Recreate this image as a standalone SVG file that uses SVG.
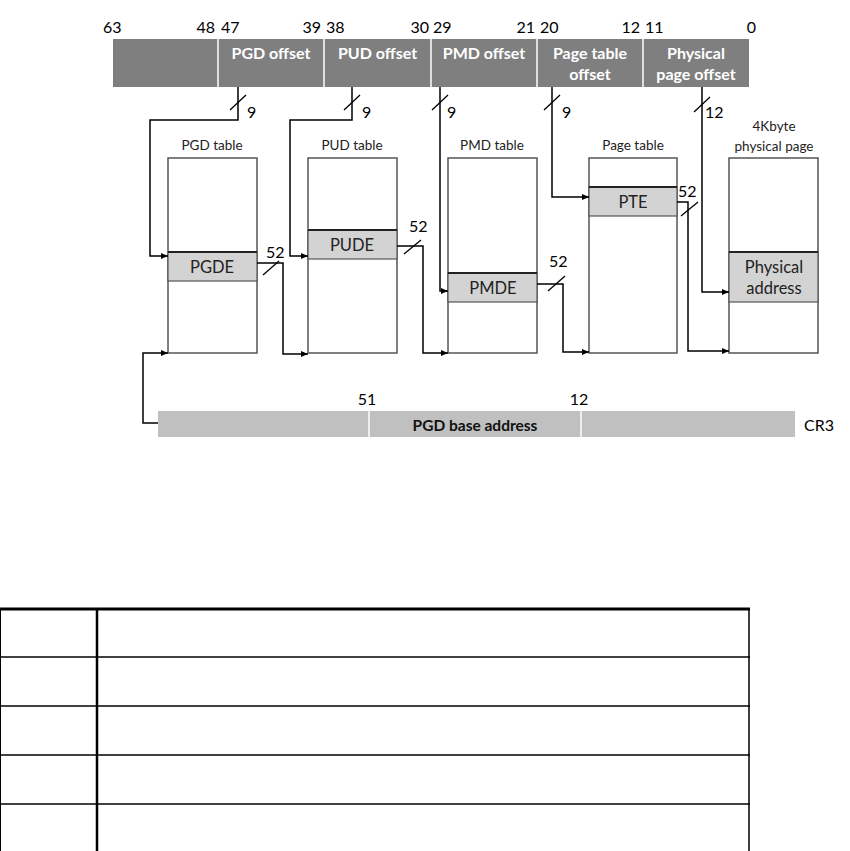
<svg xmlns="http://www.w3.org/2000/svg" width="850" height="851" viewBox="0 0 850 851">
<defs>
<marker id="arr" markerWidth="8" markerHeight="8" refX="7" refY="4" orient="auto" markerUnits="userSpaceOnUse">
<path d="M0,1 L7,4 L0,7 Z" fill="#000"/>
</marker>
<style>
.num{font-family:Lato,"Open Sans",sans-serif;font-size:16px;fill:#000}
.bl{font-family:Lato,"Open Sans",sans-serif;font-size:16px;font-weight:bold;fill:#fff;text-anchor:middle}
.tl{font-family:Lato,"Open Sans",sans-serif;font-size:13.5px;fill:#222;text-anchor:middle}
.rt{font-family:Lato,"Open Sans",sans-serif;font-size:16.5px;fill:#222;text-anchor:middle}
.tab{fill:#fff;stroke:#555;stroke-width:1.5}
.row{fill:#d3d3d3;stroke:#555;stroke-width:1.2}
.rtop{stroke:#222;stroke-width:2.2}
.seg{fill:#7f7f7f}
.div{stroke:#fff;stroke-width:1.5}
.con{fill:none;stroke:#000;stroke-width:1.5}
.sl{stroke:#000;stroke-width:1.3}
.grid{stroke:#000}
</style>
</defs>
<rect width="850" height="851" fill="#fff"/>

<g id="address-bar">
<rect class="seg" x="113" y="39" width="636" height="48"/>
<line class="div" x1="218" y1="39" x2="218" y2="87"/>
<line class="div" x1="324" y1="39" x2="324" y2="87"/>
<line class="div" x1="431" y1="39" x2="431" y2="87"/>
<line class="div" x1="537" y1="39" x2="537" y2="87"/>
<line class="div" x1="643" y1="39" x2="643" y2="87"/>
<text class="bl" x="271" y="59">PGD offset</text>
<text class="bl" x="377.5" y="59">PUD offset</text>
<text class="bl" x="484" y="59">PMD offset</text>
<text class="bl" x="590" y="59">Page table</text>
<text class="bl" x="590" y="80">offset</text>
<text class="bl" x="696" y="59">Physical</text>
<text class="bl" x="696" y="80">page offset</text>
<text class="num" x="103" y="33">63</text>
<text class="num" x="215" y="33" text-anchor="end">48</text>
<text class="num" x="221" y="33">47</text>
<text class="num" x="321" y="33" text-anchor="end">39</text>
<text class="num" x="326" y="33">38</text>
<text class="num" x="429" y="33" text-anchor="end">30</text>
<text class="num" x="433" y="33">29</text>
<text class="num" x="535" y="33" text-anchor="end">21</text>
<text class="num" x="540" y="33">20</text>
<text class="num" x="640" y="33" text-anchor="end">12</text>
<text class="num" x="645" y="33">11</text>
<text class="num" x="756" y="33" text-anchor="end">0</text>
</g>

<g id="pgd-table">
<text class="tl" x="212" y="150">PGD table</text>
<rect class="tab" x="168" y="158" width="89" height="195"/>
<rect class="row" x="168" y="252" width="89" height="29"/>
<line class="rtop" x1="168" y1="252" x2="257" y2="252"/>
<text class="rt" x="212" y="273">PGDE</text>
</g>

<g id="pud-table">
<text class="tl" x="352" y="150">PUD table</text>
<rect class="tab" x="308" y="158" width="89" height="195"/>
<rect class="row" x="308" y="230" width="89" height="29"/>
<line class="rtop" x1="308" y1="230" x2="397" y2="230"/>
<text class="rt" x="352" y="251">PUDE</text>
</g>

<g id="pmd-table">
<text class="tl" x="492" y="150">PMD table</text>
<rect class="tab" x="448" y="158" width="89" height="195"/>
<rect class="row" x="448" y="273" width="89" height="29"/>
<line class="rtop" x1="448" y1="273" x2="537" y2="273"/>
<text class="rt" x="493" y="294">PMDE</text>
</g>

<g id="page-table">
<text class="tl" x="633" y="150">Page table</text>
<rect class="tab" x="589" y="158" width="88" height="195"/>
<rect class="row" x="589" y="187" width="88" height="29"/>
<line class="rtop" x1="589" y1="187" x2="677" y2="187"/>
<text class="rt" x="633" y="208">PTE</text>
</g>

<g id="physical-page">
<text class="tl" x="774" y="131">4Kbyte</text>
<text class="tl" x="774" y="151">physical page</text>
<rect class="tab" x="729" y="158" width="89" height="195"/>
<rect class="row" x="729" y="252" width="89" height="50"/>
<line class="rtop" x1="729" y1="252" x2="818" y2="252"/>
<text class="rt" x="774" y="273">Physical</text>
<text class="rt" x="774" y="294">address</text>
</g>

<g id="cr3">
<rect x="158" y="411" width="637" height="26" fill="#c0c0c0"/>
<line class="div" x1="369" y1="411" x2="369" y2="437"/>
<line class="div" x1="581" y1="411" x2="581" y2="437"/>
<text class="num" x="367" y="405" text-anchor="middle">51</text>
<text class="num" x="579" y="405" text-anchor="middle">12</text>
<text x="475" y="431" text-anchor="middle" style="font-family:Lato,'Open Sans',sans-serif;font-size:15.5px;font-weight:bold;fill:#111">PGD base address</text>
<text class="num" x="804" y="431">CR3</text>
</g>

<g id="connectors">
<polyline class="con" points="238,87 238,120 150,120 150,256 168,256" marker-end="url(#arr)"/>
<polyline class="con" points="352,87 352,120 290,120 290,256 308,256" marker-end="url(#arr)"/>
<polyline class="con" points="440,87 440,291 448,291" marker-end="url(#arr)"/>
<polyline class="con" points="552,87 552,197 589,197" marker-end="url(#arr)"/>
<polyline class="con" points="702,87 702,292 729,292" marker-end="url(#arr)"/>
<polyline class="con" points="257,263 283,263 283,354 308,354" marker-end="url(#arr)"/>
<polyline class="con" points="397,246 423,246 423,353 448,353" marker-end="url(#arr)"/>
<polyline class="con" points="537,284 563,284 563,352 589,352" marker-end="url(#arr)"/>
<polyline class="con" points="677,202 688,202 688,351 729,351" marker-end="url(#arr)"/>
<polyline class="con" points="158,423 143,423 143,353 168,353" marker-end="url(#arr)"/>
<line class="sl" x1="230" y1="110" x2="246" y2="95"/>
<line class="sl" x1="344" y1="110" x2="360" y2="95"/>
<line class="sl" x1="432" y1="110" x2="448" y2="95"/>
<line class="sl" x1="544" y1="110" x2="560" y2="95"/>
<line class="sl" x1="694" y1="112" x2="710" y2="97"/>
<line class="sl" x1="263" y1="275" x2="279" y2="261"/>
<line class="sl" x1="404" y1="254" x2="421" y2="240"/>
<line class="sl" x1="548" y1="291" x2="565" y2="276"/>
<line class="sl" x1="681" y1="216" x2="698" y2="202"/>
<text class="num" x="247" y="118">9</text>
<text class="num" x="362" y="118">9</text>
<text class="num" x="447" y="118">9</text>
<text class="num" x="562" y="118">9</text>
<text class="num" x="705" y="118">12</text>
<text class="num" x="266" y="258">52</text>
<text class="num" x="409" y="232">52</text>
<text class="num" x="549" y="267">52</text>
<text class="num" x="678" y="197">52</text>
</g>

<g id="grid-table">
<line class="grid" x1="0" y1="609" x2="750" y2="609" stroke-width="3"/>
<line class="grid" x1="0" y1="657" x2="750" y2="657" stroke-width="1.5"/>
<line class="grid" x1="0" y1="706" x2="750" y2="706" stroke-width="1.5"/>
<line class="grid" x1="0" y1="755" x2="750" y2="755" stroke-width="1.5"/>
<line class="grid" x1="0" y1="804" x2="750" y2="804" stroke-width="1.5"/>
<line class="grid" x1="97" y1="608" x2="97" y2="851" stroke-width="2.5"/>
<line class="grid" x1="749" y1="608" x2="749" y2="851" stroke-width="1.5"/>
<line class="grid" x1="0.5" y1="608" x2="0.5" y2="851" stroke-width="1"/>
</g>
</svg>
